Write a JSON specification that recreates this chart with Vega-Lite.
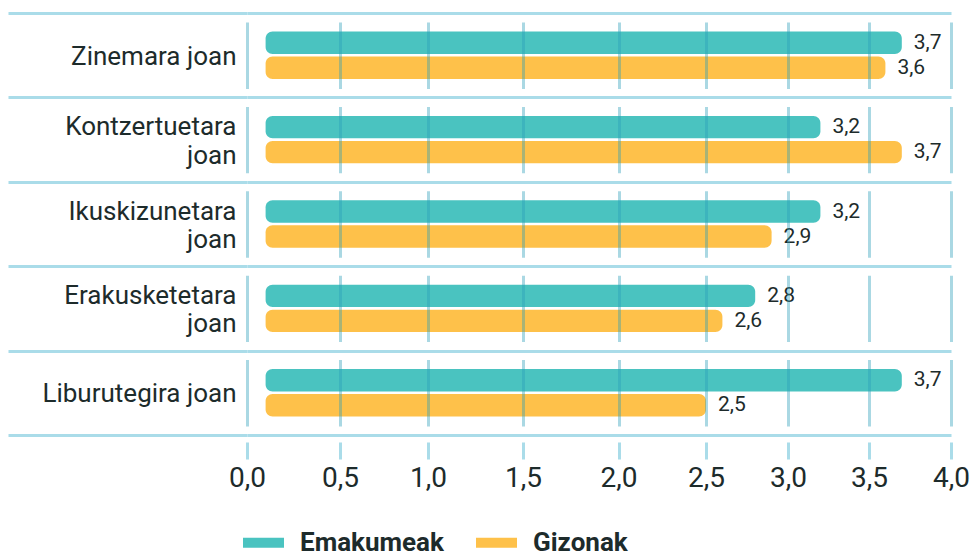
{
  "$schema": "https://vega.github.io/schema/vega-lite/v6.json",
  "width": 704,
  "height": 422,
  "autosize": {"type": "none"},
  "padding": {"left": 247, "top": 13, "right": 22, "bottom": 122},
  "background": "white",
  "config": {
    "locale": {"number": {"decimal": ",", "thousands": ".", "grouping": [3], "currency": ["", " €"]}},
    "view": {"stroke": null},
    "font": "Roboto"
  },
  "data": {
    "values": [
      {"activity": "Zinemara joan", "gender": "Emakumeak", "value": 3.7},
      {"activity": "Zinemara joan", "gender": "Gizonak", "value": 3.6},
      {"activity": "Kontzertuetara joan", "gender": "Emakumeak", "value": 3.2},
      {"activity": "Kontzertuetara joan", "gender": "Gizonak", "value": 3.7},
      {"activity": "Ikuskizunetara joan", "gender": "Emakumeak", "value": 3.2},
      {"activity": "Ikuskizunetara joan", "gender": "Gizonak", "value": 2.9},
      {"activity": "Erakusketetara joan", "gender": "Emakumeak", "value": 2.8},
      {"activity": "Erakusketetara joan", "gender": "Gizonak", "value": 2.6},
      {"activity": "Liburutegira joan", "gender": "Emakumeak", "value": 3.7},
      {"activity": "Liburutegira joan", "gender": "Gizonak", "value": 2.5}
    ]
  },
  "encoding": {
    "y": {
      "field": "activity",
      "type": "nominal",
      "sort": ["Zinemara joan", "Kontzertuetara joan", "Ikuskizunetara joan", "Erakusketetara joan", "Liburutegira joan"],
      "scale": {"paddingInner": 0, "paddingOuter": 0},
      "axis": {
        "title": null,
        "domain": false,
        "tickBand": "extent",
        "ticks": true,
        "tickSize": 239,
        "tickColor": "#AADCE9",
        "tickWidth": 3,
        "grid": true,
        "gridColor": "#AADCE9",
        "gridWidth": 3,
        "labelPadding": -228,
        "labelFontSize": 26,
        "labelColor": "#1d2b2b",
        "labelLineHeight": 28.5,
        "labelLimit": 300,
        "labelOffset": {
          "condition": {"test": "datum.value == 'Zinemara joan' || datum.value == 'Liburutegira joan'", "value": 1},
          "value": -13
        },
        "labelExpr": "datum.value == null ? '' : (datum.value == 'Zinemara joan' || datum.value == 'Liburutegira joan' ? datum.value : split(datum.value, ' '))"
      }
    },
    "yOffset": {
      "field": "gender",
      "sort": ["Emakumeak", "Gizonak"],
      "scale": {"paddingInner": 0.104, "paddingOuter": 0.74}
    }
  },
  "layer": [
    {
      "mark": {"type": "bar", "cornerRadius": 7},
      "encoding": {
        "x": {
          "field": "value",
          "type": "quantitative",
          "scale": {
            "domain": [0, 0.5, 1, 1.5, 2, 2.5, 3, 3.5, 4],
            "range": [0, 93, 181, 276, 371.5, 459, 541, 622, 704],
            "nice": false,
            "zero": false
          },
          "axis": {
            "title": null,
            "values": [0, 0.5, 1, 1.5, 2, 2.5, 3, 3.5, 4],
            "format": ".1f",
            "domain": false,
            "grid": true,
            "gridColor": "#2A9DB8",
            "gridOpacity": 0.4,
            "gridWidth": 3,
            "gridDash": [66.4, 18],
            "gridDashOffset": 75.4,
            "ticks": true,
            "tickColor": "#AADCE9",
            "tickWidth": 3,
            "tickSize": 24,
            "tickDash": [0, 7, 17, 20],
            "labelFontSize": 28,
            "labelColor": "#1d2b2b",
            "labelPadding": 5,
            "labelFlush": false,
            "zindex": 1
          }
        },
        "x2": {"datum": 0.1},
        "color": {
          "field": "gender",
          "type": "nominal",
          "scale": {"domain": ["Emakumeak", "Gizonak"], "range": ["#4AC3C0", "#FEC14A"]},
          "legend": {
            "title": null,
            "orient": "none",
            "legendX": -4,
            "legendY": 509,
            "direction": "horizontal",
            "symbolType": "M-1,-0.244H1V0.244H-1Z",
            "symbolSize": 1681,
            "symbolStrokeWidth": 0,
            "symbolOpacity": 1,
            "labelFontSize": 26,
            "labelFontWeight": "bold",
            "labelColor": "#1d2b2b",
            "labelOffset": 16,
            "columnPadding": 32,
            "labelLimit": 300
          }
        }
      }
    },
    {
      "mark": {"type": "text", "align": "left", "baseline": "middle", "dx": 12, "fontSize": 21, "color": "#1d2b2b"},
      "encoding": {
        "x": {"field": "value", "type": "quantitative"},
        "text": {"field": "value", "type": "quantitative", "format": ".1f"}
      }
    }
  ]
}
